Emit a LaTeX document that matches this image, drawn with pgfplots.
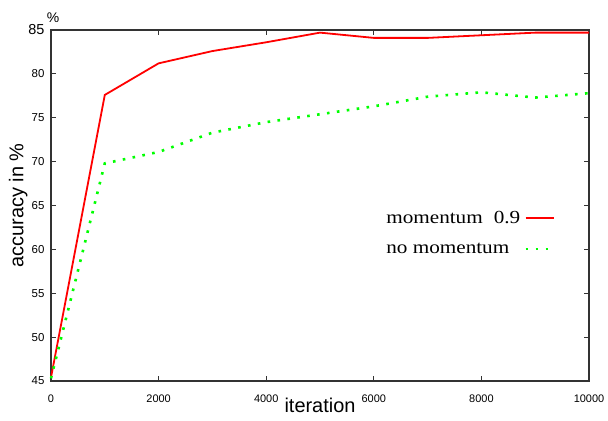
\documentclass[border=0pt]{standalone}
\usepackage{pgfplots}
\pgfplotsset{compat=1.18}
\usepackage{fontspec}
\setmainfont{Liberation Sans}
\newfontfamily\legfont[FakeStretch=1.15]{Liberation Serif}
\begin{document}
\begin{tikzpicture}[x=1bp,y=1bp]
\path[use as bounding box] (0,0) rectangle (608,420);
\begin{axis}[
  at={(51bp,39bp)}, anchor=origin,
  scale only axis, width=538bp, height=351bp,
  xmin=0, xmax=10000, ymin=45, ymax=85,
  xtick={0,2000,...,10000}, ytick={45,50,...,85},
  yticklabels={45,50,55,60,65,70,75,80,{\fontsize{14.5}{14.5}\selectfont 85}},
  minor xtick={1000,3000,...,9000},
  tick align=inside, major tick length=5bp, minor tick length=0bp,
  scaled x ticks=false,
  x tick label style={/pgf/number format/1000 sep={}, font=\fontsize{11}{11}\selectfont, yshift=-10bp},
  y tick label style={font=\fontsize{11.5}{12}\selectfont, xshift=-3bp},
  /pgf/number format/assume math mode=true,
  axis line style={line width=1.1bp, black!80},
  every tick/.style={line width=0.9bp, black!80},
  xlabel={iteration}, xlabel style={font=\fontsize{20}{20}\selectfont, inner sep=0pt, outer sep=0pt, text depth=0pt, yshift=8bp},
  ylabel={accuracy in \%}, ylabel style={font=\fontsize{20}{20}\selectfont, yshift=-6bp},
  legend style={draw=none, fill=none, at={(0.937,0.495)}, anchor=north east, font=\legfont\fontsize{18.5}{20}\selectfont, row sep=14bp, legend cell align=left, inner xsep=0bp, nodes={inner xsep=4bp}},
  legend plot pos=right,
  legend image code/.code={\draw[#1] (2bp,0bp) -- (30bp,0bp);},
  clip=false,
]
\addplot[red, line width=1.8bp] coordinates {
(0,45.4) (1000,77.6) (2000,81.2) (3000,82.6) (4000,83.6) (5000,84.7) (6000,84.1) (7000,84.1) (8000,84.4) (9000,84.7) (10000,84.7)};
\addlegendentry{momentum\hspace{11bp}0.9}
\addplot[green, line width=2.6bp, dash pattern=on 2.6bp off 7.4bp] coordinates {
(0,45.3) (1000,69.8) (2000,71.1) (3000,73.3) (4000,74.5) (5000,75.4) (6000,76.3) (7000,77.4) (8000,77.9) (9000,77.3) (10000,77.8)};
\addlegendentry{no momentum}
\node[font=\fontsize{14}{14}\selectfont, anchor=south] at (rel axis cs:0.004,1.012) {\%};
\end{axis}
\end{tikzpicture}
\end{document}
